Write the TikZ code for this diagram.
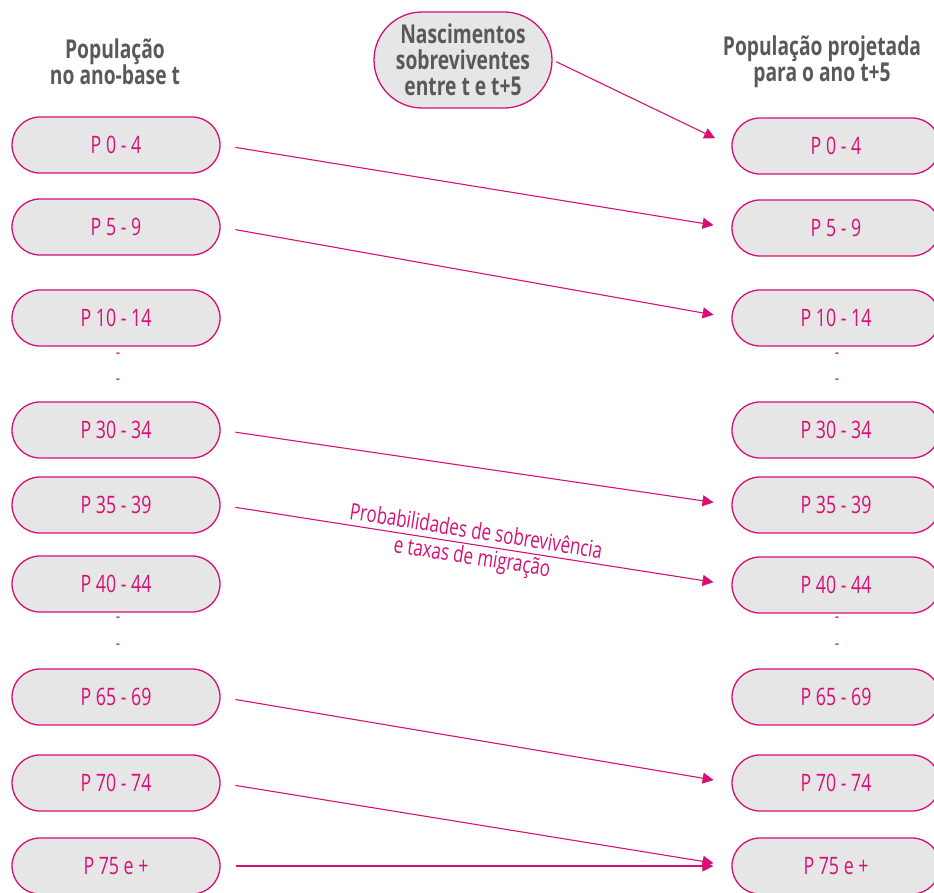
\documentclass[tikz,border=0pt]{standalone}
\usepackage{fontspec}
\setmainfont{Open Sans}[FakeStretch=0.74]
\usetikzlibrary{shapes.misc,arrows.meta}
\definecolor{rosa}{RGB}{214,16,118}
\definecolor{cinza}{RGB}{230,230,230}
\definecolor{texto}{RGB}{88,89,91}
\tikzset{
  faixa/.style={rounded rectangle,draw=rosa,fill=cinza,line width=1.3pt,
    minimum width=208pt,minimum height=56pt,inner sep=0pt,
    text=rosa,font=\fontsize{24}{26}\selectfont},
  titulo/.style={align=center,text=texto,font=\fontsize{26}{26}\selectfont\bfseries},
  seta/.style={draw=rosa,line width=1.1pt,-{Triangle[length=11pt,width=11pt]},
    shorten <=15pt,shorten >=18pt},
  traco/.style={text=rosa,font=\fontsize{18}{18}\selectfont}
}
\begin{document}
\begin{tikzpicture}[x=1pt,y=-1pt]
  \useasboundingbox (0,0) rectangle (934,893);
  % titulos
  \node[titulo] (tl) at (115,62) {População\\no ano-base t};
  \node[titulo] (tr) at (822,62) {População projetada\\para o ano t+5};
  \node[titulo,rounded rectangle,draw=rosa,fill=cinza,line width=1.3pt,
    minimum width=182pt,minimum height=96pt,inner sep=2pt] (nasc) at (463,60)
    {Nascimentos\\sobreviventes\\entre t e t+5};
  % grupos etarios, ano-base
  \node[faixa] (l0) at (116,145) {P 0 - 4};
  \node[faixa] (l5) at (116,227) {P 5 - 9};
  \node[faixa] (l10) at (116,318) {P 10 - 14};
  \node[faixa] (l30) at (116,430) {P 30 - 34};
  \node[faixa] (l35) at (116,505) {P 35 - 39};
  \node[faixa] (l40) at (116,584) {P 40 - 44};
  \node[faixa] (l65) at (116,697) {P 65 - 69};
  \node[faixa] (l70) at (116,783) {P 70 - 74};
  \node[faixa] (l75) at (116,866) {P 75 e +};
  % grupos etarios, projecao
  \node[faixa] (r0) at (836,146) {P 0 - 4};
  \node[faixa] (r5) at (836,228) {P 5 - 9};
  \node[faixa] (r10) at (836,318) {P 10 - 14};
  \node[faixa] (r30) at (836,430) {P 30 - 34};
  \node[faixa] (r35) at (836,505) {P 35 - 39};
  \node[faixa] (r40) at (836,585) {P 40 - 44};
  \node[faixa] (r65) at (836,697) {P 65 - 69};
  \node[faixa] (r70) at (836,783) {P 70 - 74};
  \node[faixa] (r75) at (836,866) {P 75 e +};
  % tracos
  \node[traco] (d1) at (118,356) {-};
  \node[traco] (d2) at (118,382) {-};
  \node[traco] (d3) at (118,620) {-};
  \node[traco] (d4) at (118,647) {-};
  \node[traco] (d5) at (837,356) {-};
  \node[traco] (d6) at (837,382) {-};
  \node[traco] (d7) at (837,620) {-};
  \node[traco] (d8) at (837,647) {-};
  % setas
  \draw[seta,shorten <=4pt] (nasc.east) -- (r0.west);
  \draw[seta] (l0.east) -- (r5.west);
  \draw[seta] (l5.east) -- (r10.west);
  \draw[seta] (l30.east) -- (r35.west);
  \draw[seta] (l35.east) -- (r40.west)
    node[midway,sloped,align=center,text=rosa,font=\fontsize{23}{26}\selectfont,xshift=-2pt,yshift=-1pt]
    {Probabilidades de sobrevivência\\e taxas de migração};
  \draw[seta] (l65.east) -- (r70.west);
  \draw[seta] (l70.east) -- (r75.west);
  \draw[seta] (l75.east) -- (r75.west);
\end{tikzpicture}
\end{document}
